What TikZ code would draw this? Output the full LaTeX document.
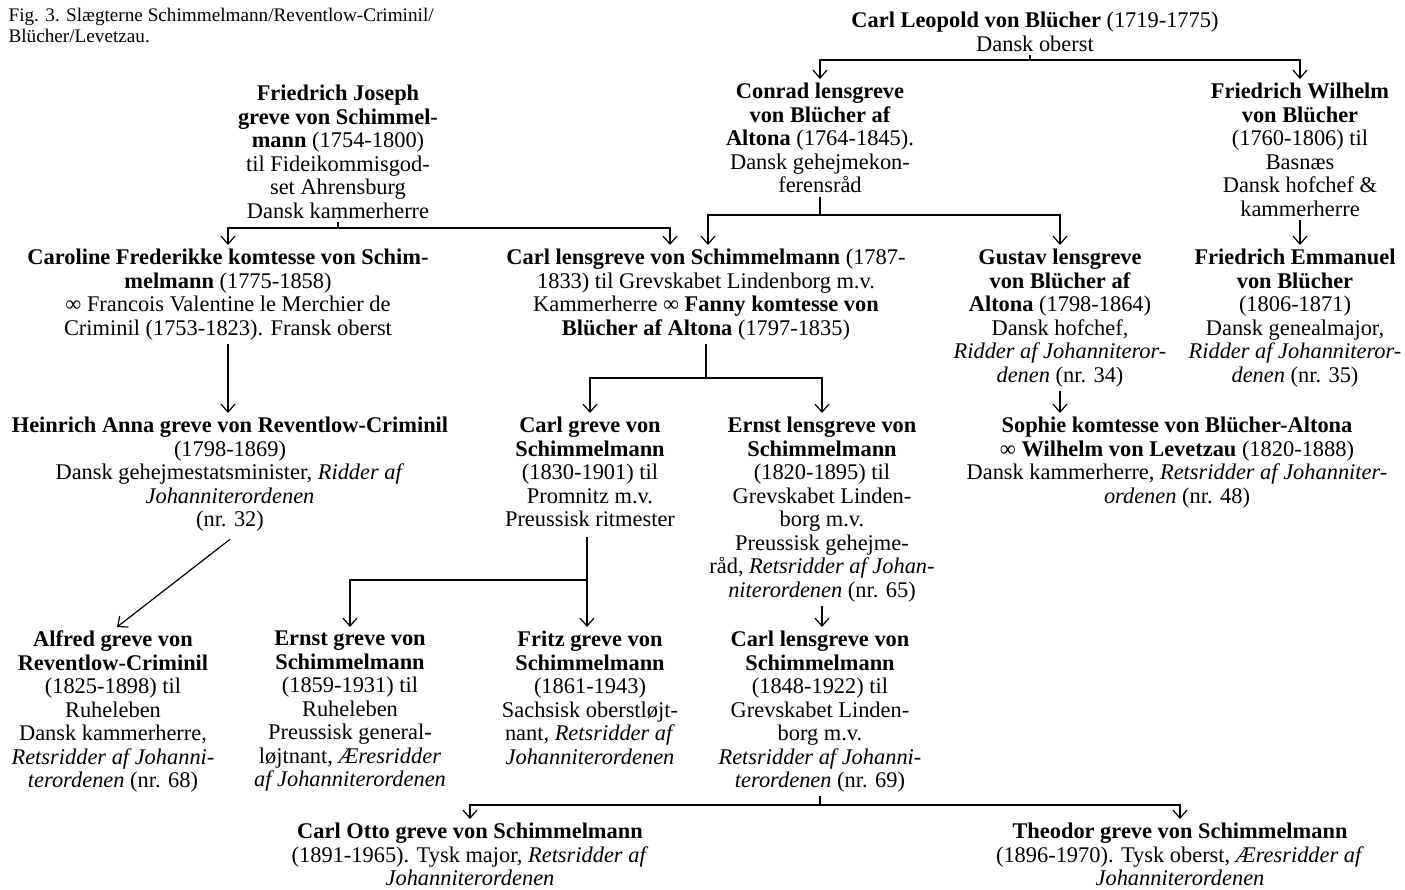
\documentclass[tikz,border=0pt]{standalone}
\usepackage{fontspec}
\setmainfont{Liberation Serif}
\usetikzlibrary{arrows.meta}

\begin{document}
\begin{tikzpicture}[x=0.5pt,y=-0.5pt,line width=0.6pt,
    person/.style={align=center,inner sep=0pt,outer sep=2pt,anchor=north,
      font=\fontsize{11.2pt}{11.75pt}\selectfont},
    arr/.style={-{Straight Barb[length=4pt,width=7pt]}}]
    \useasboundingbox (0,0) rectangle (1405,890);
    % caption
    \node[anchor=north west,align=left,inner sep=0pt,
      font=\fontsize{9.6pt}{10.5pt}\selectfont] (caption) at (8,8)
      {Fig. 3. Slægterne Schimmelmann/Reventlow-Criminil/\\Blücher/Levetzau.};
    % generation 1
    \node[person] (leopold) at (1035,8)
      {\textbf{Carl Leopold von Blücher} (1719-1775)\\Dansk oberst};
    % generation 2
    \node[person] (fjoseph) at (338,81)
      {\textbf{Friedrich Joseph}\\\textbf{greve von Schimmel-}\\\textbf{mann} (1754-1800)\\til Fideikommisgod-\\set Ahrensburg\\Dansk kammerherre};
    \node[person] (conrad) at (820,79)
      {\textbf{Conrad lensgreve}\\\textbf{von Blücher af}\\\textbf{Altona} (1764-1845).\\Dansk gehejmekon-\\ferensråd};
    \node[person] (fwilhelm) at (1300,79)
      {\textbf{Friedrich Wilhelm}\\\textbf{von Blücher}\\(1760-1806) til\\Basnæs\\Dansk hofchef \&\\kammerherre};
    % generation 3
    \node[person] (caroline) at (228,245)
      {\textbf{Caroline Frederikke komtesse von Schim-}\\\textbf{melmann} (1775-1858)\\∞ Francois Valentine le Merchier de\\Criminil (1753-1823). Fransk oberst};
    \node[person] (carl) at (706,245)
      {\textbf{Carl lensgreve von Schimmelmann} (1787-\\1833) til Grevskabet Lindenborg m.v.\\Kammerherre ∞ \textbf{Fanny komtesse von}\\\textbf{Blücher af Altona} (1797-1835)};
    \node[person] (gustav) at (1060,245)
      {\textbf{Gustav lensgreve}\\\textbf{von Blücher af}\\\textbf{Altona} (1798-1864)\\Dansk hofchef,\\\textit{Ridder af Johanniteror-}\\\textit{denen} (nr. 34)};
    \node[person] (femmanuel) at (1295,245)
      {\textbf{Friedrich Emmanuel}\\\textbf{von Blücher}\\(1806-1871)\\Dansk genealmajor,\\\textit{Ridder af Johanniteror-}\\\textit{denen} (nr. 35)};
    % generation 4
    \node[person] (heinrich) at (230,413)
      {\textbf{Heinrich Anna greve von Reventlow-Criminil}\\(1798-1869)\\Dansk gehejmestatsminister, \textit{Ridder af}\\\textit{Johanniterordenen}\\(nr. 32)};
    \node[person] (carlgreve) at (590,413)
      {\textbf{Carl greve von}\\\textbf{Schimmelmann}\\(1830-1901) til\\Promnitz m.v.\\Preussisk ritmester};
    \node[person] (ernstlens) at (822,413)
      {\textbf{Ernst lensgreve von}\\\textbf{Schimmelmann}\\(1820-1895) til\\Grevskabet Linden-\\borg m.v.\\Preussisk gehejme-\\råd, \textit{Retsridder af Johan-}\\\textit{niterordenen} (nr. 65)};
    \node[person] (sophie) at (1177,413)
      {\textbf{Sophie komtesse von Blücher-Altona}\\∞ \textbf{Wilhelm von Levetzau} (1820-1888)\\Dansk kammerherre, \textit{Retsridder af Johanniter-}\\\textit{ordenen} (nr. 48)};
    % generation 5
    \node[person] (alfred) at (113,627)
      {\textbf{Alfred greve von}\\\textbf{Reventlow-Criminil}\\(1825-1898) til\\Ruheleben\\Dansk kammerherre,\\\textit{Retsridder af Johanni-}\\\textit{terordenen} (nr. 68)};
    \node[person] (ernst) at (350,627)
      {\textbf{Ernst greve von}\\\textbf{Schimmelmann}\\(1859-1931) til\\Ruheleben\\Preussisk general-\\løjtnant, \textit{Æresridder}\\\textit{af Johanniterordenen}};
    \node[person] (fritz) at (590,627)
      {\textbf{Fritz greve von}\\\textbf{Schimmelmann}\\(1861-1943)\\Sachsisk oberstløjt-\\nant, \textit{Retsridder af}\\\textit{Johanniterordenen}};
    \node[person] (carllens) at (820,627)
      {\textbf{Carl lensgreve von}\\\textbf{Schimmelmann}\\(1848-1922) til\\Grevskabet Linden-\\borg m.v.\\\textit{Retsridder af Johanni-}\\\textit{terordenen} (nr. 69)};
    % generation 6
    \node[person] (carlotto) at (470,819)
      {\textbf{Carl Otto greve von Schimmelmann}\\(1891-1965). Tysk major, \textit{Retsridder af}\\\textit{Johanniterordenen}};
    \node[person] (theodor) at (1180,819)
      {\textbf{Theodor greve von Schimmelmann}\\(1896-1970). Tysk oberst, \textit{Æresridder af}\\\textit{Johanniterordenen}};
    % connectors
    \coordinate (bleopold) at (1030,60);
    \draw (bleopold |- leopold.south) -- (bleopold);
    \draw[arr] (bleopold) -| (conrad);
    \draw[arr] (bleopold) -| (fwilhelm);
    \coordinate (bfjoseph) at (338,228);
    \draw (fjoseph) -- (bfjoseph);
    \draw[arr] (bfjoseph) -| (caroline);
    \draw[arr] (bfjoseph) -| (670,0 |- carl.north);
    \coordinate (bconrad) at (820,215);
    \draw (conrad) -- (bconrad);
    \draw[arr] (bconrad) -| (708,0 |- carl.north);
    \draw[arr] (bconrad) -| (gustav);
    \draw[arr] (fwilhelm.south) -- (fwilhelm.south |- femmanuel.north);
    \draw[arr] (caroline.south) -- (caroline.south |- heinrich.north);
    \coordinate (bcarl) at (706,378);
    \draw (carl) -- (bcarl);
    \draw[arr] (bcarl) -| (carlgreve);
    \draw[arr] (bcarl) -| (ernstlens);
    \draw[arr] (gustav) -- (1060,0 |- sophie.north);
    \draw[arr] ([yshift=-2pt]heinrich.south) -- ([xshift=2pt]alfred.north);
    \coordinate (bcarlgreve) at (587,580);
    \draw ([yshift=-3pt]bcarlgreve |- carlgreve.south) -- (bcarlgreve);
    \draw[arr] (bcarlgreve) -| (ernst);
    \draw[arr] (bcarlgreve) -- (bcarlgreve |- fritz.north);
    \draw[arr] (ernstlens.south) -- (ernstlens.south |- carllens.north);
    \coordinate (bcarllens) at (820,805);
    \draw (carllens) -- (bcarllens);
    \draw[arr] (bcarllens) -| (carlotto);
    \draw[arr] (bcarllens) -| (theodor);
\end{tikzpicture}
\end{document}
